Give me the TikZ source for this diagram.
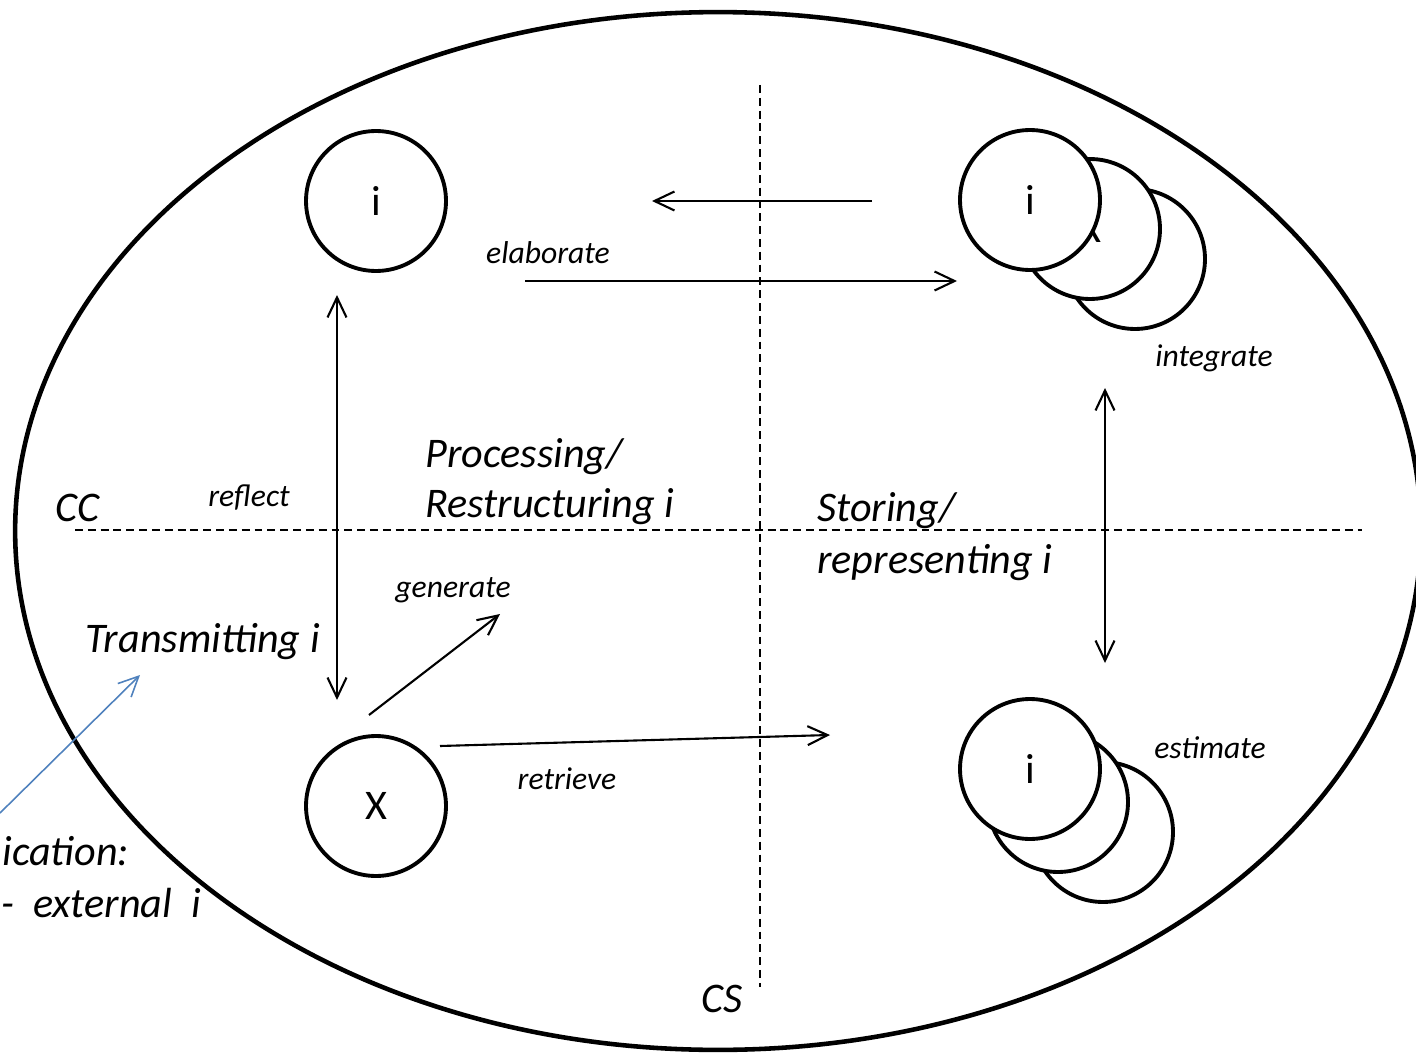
\documentclass[tikz,border=0pt]{standalone}
\usepackage{fontspec}
\setmainfont{Carlito}
\usetikzlibrary{arrows.meta}
\usetikzlibrary{positioning}
\definecolor{extblue}{RGB}{79,129,189}

\begin{document}
\begin{tikzpicture}[x=0.02cm, y=-0.02cm,
  >={Straight Barb[length=0.4cm,width=0.38cm]},
  unit/.style={circle, draw, line width=2.2pt, fill=white, minimum size=2.8cm, inner sep=0pt, font=\fontsize{24}{28}\selectfont},
  big/.style={font=\fontsize{24}{28.5}\selectfont\itshape, inner sep=0pt, anchor=base west},
  verb/.style={font=\fontsize{18}{21}\selectfont\itshape, inner sep=0pt, anchor=base},
  link/.style={line width=1.2pt},
  axis/.style={line width=0.85pt, dash pattern=on 4.5pt off 2.8pt}]
\useasboundingbox (0,0) rectangle (1416,1054);
\draw[line width=2.6pt] (718,531) ellipse [x radius=14.06cm, y radius=10.38cm];
% axes
\coordinate (cs-top) at (760,85);
\coordinate (cs-bot) at (760,987);
\coordinate (cc-lft) at (75,530);
\coordinate (cc-rgt) at (1362,530);
\draw[axis] (cs-top) -- (cs-bot);
\draw[axis] (cc-lft) -- (cc-rgt);
% stacks, back to front
\node[unit] (tr3) at (1135,259) {};
\node[unit] (tr2) at (1090,229) {X};
\node[unit] (tr1) at (1030,200) {i};
\node[unit] (br3) at (1103,832) {};
\node[unit] (br2) at (1058,802) {};
\node[unit] (br1) at (1030,769) {i};
\node[unit] (tl) at (376,201) {i};
\node[unit] (bl) at (376,806) {X};
\coordinate (back-s) at (872,201);
\coordinate (back-e) at (652,201);
\coordinate (elab-s) at (525,281);
\coordinate (elab-e) at (957,281);
\coordinate (refl-a) at (337,295);
\coordinate (refl-b) at (337,700);
\coordinate (gen-s) at (369,715);
\coordinate (gen-e) at (500,614);
\coordinate (retr-s) at (440,746);
\coordinate (retr-e) at (830,735);
\coordinate (intg-a) at (1105,388);
\coordinate (intg-b) at (1105,663);
\coordinate (ext-s) at (0,813);
\coordinate (ext-e) at (140,675);
\draw[link,->] (back-s) -- (back-e);
\draw[link,->] (elab-s) -- (elab-e);
\draw[link,<->] (refl-a) -- (refl-b);
\draw[link,->] (gen-s) -- (gen-e);
\draw[link,->] (retr-s) -- (retr-e);
\draw[link,<->] (intg-a) -- (intg-b);
\draw[extblue, line width=0.9pt, ->] (ext-s) -- (ext-e);
\node[verb] (elab) at (548,263) {elaborate};
\node[verb] (refl) at (249,506) {reflect};
\node[verb] (gen) at (453,597) {generate};
\node[verb] (retr) at (567,789) {retrieve};
\node[verb] (intg) at (1214,366) {integrate};
\node[verb] (estm) at (1210,758) {estimate};
\node[big] (cc) at (55,521) {CC};
\node[big] (cs) at (701,1012) {CS};
\node[big] (proc) at (425,467) {Processing/};
\node[big] (restr) at (425,517) {Restructuring i};
\node[big] (stor) at (817,521) {Storing/};
\node[big] (repr) at (817,573) {representing i};
\node[big] (trans) at (85,652) {Transmitting i};
\node[big] (comm) at (2,865) {ication:};
\node[big] (ext) at (1,917) {-\ \ external\ \ i};
%\draw[link,->] (tl) -- (bl);
\end{tikzpicture}
\end{document}
